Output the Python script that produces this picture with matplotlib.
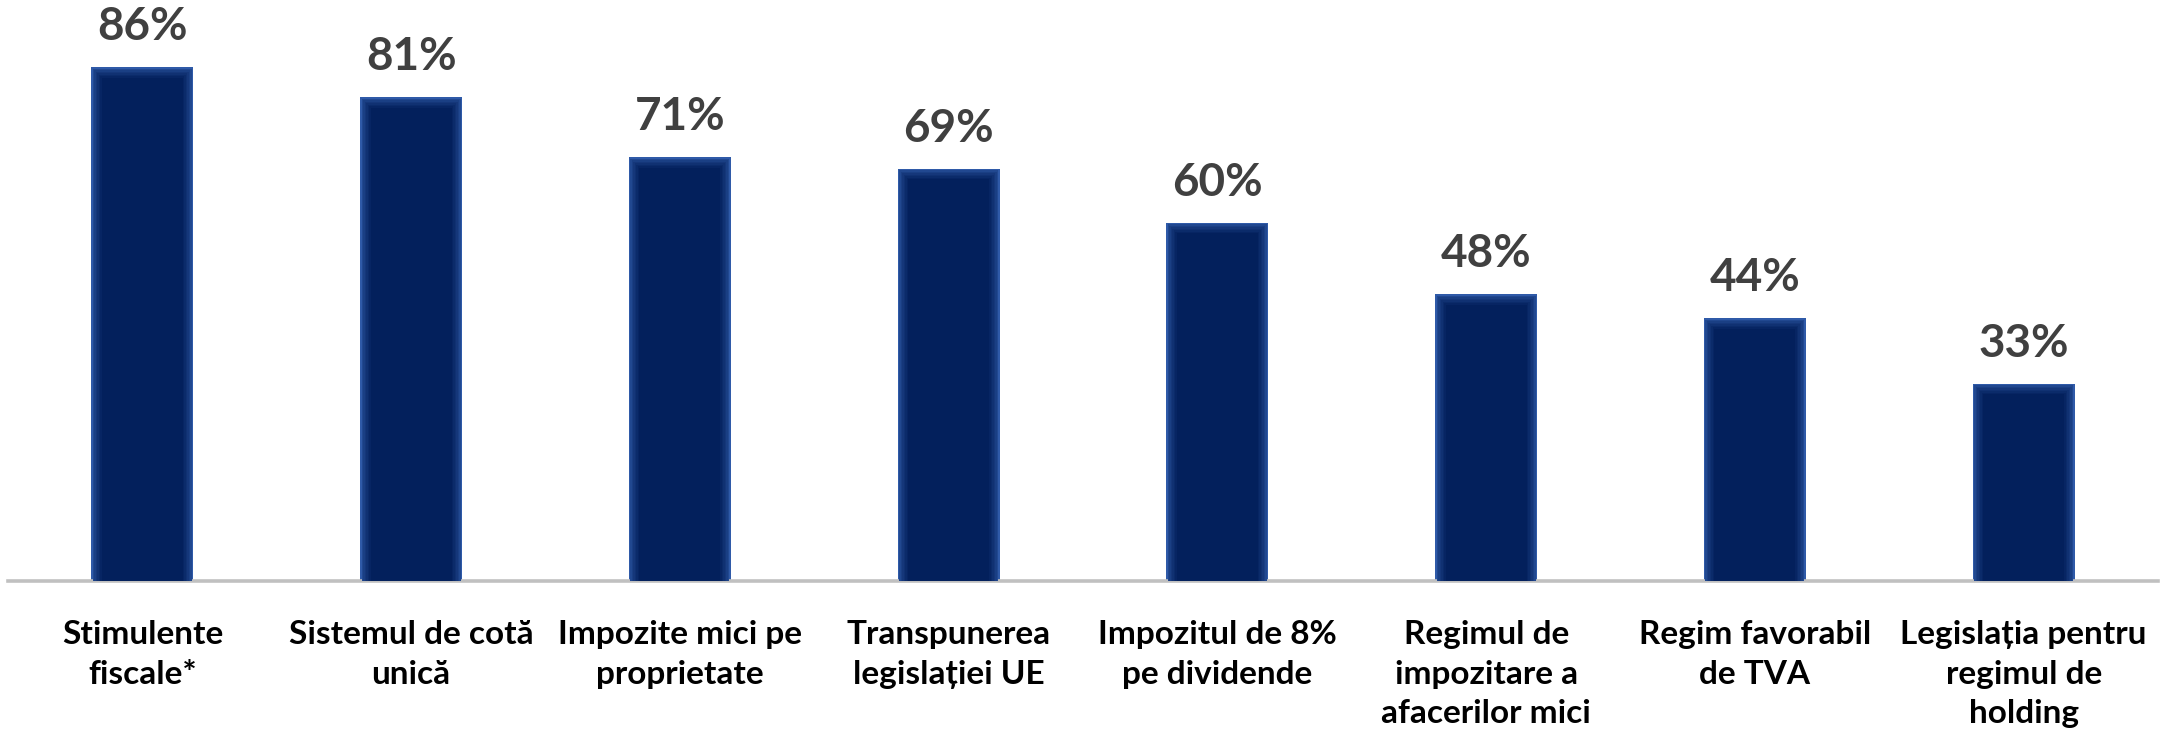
import numpy as np
import matplotlib.pyplot as plt
import matplotlib.colors as mcolors

categories = ['Stimulente\nfiscale*', 'Sistemul de cotă\nunică', 'Impozite mici pe\nproprietate',
              'Transpunerea\nlegislației UE', 'Impozitul de 8%\npe dividende',
              'Regimul de\nimpozitare a\nafacerilor mici', 'Regim favorabil\nde TVA',
              'Legislația pentru\nregimul de\nholding']
values = [86, 81, 71, 69, 60, 48, 44, 33]

FONT = ['Lato', 'DejaVu Sans']

fig = plt.figure(figsize=(21.74, 7.39), dpi=100)
ax = fig.add_axes([8 / 2174, (739 - 581) / 739, 2150 / 2174, 581 / 739])

x = np.arange(len(values))
ymax = 97.3
ax.set_xlim(-0.5, len(values) - 0.5)
ax.set_ylim(0, ymax)

# bar with soft inner glow: stack of slightly inset bars
px_x = (len(values)) / 2150.0   # data units per pixel, x
px_y = ymax / 581.0              # data units per pixel, y
width = 102 * px_x
edge_c = np.array(mcolors.to_rgb('#2f5aa8'))
core_c = np.array(mcolors.to_rgb('#03205c'))
steps = 8
for i in range(steps):
    inset = i * 1.5
    t = (i / (steps - 1)) ** 0.6
    col = edge_c * (1 - t) + core_c * t
    h = np.array(values) - inset * px_y
    ax.bar(x, h, width=width - 2 * inset * px_x, color=col, linewidth=0, zorder=2 + i)

for xi, v in zip(x, values):
    ax.text(xi, v + 19 * px_y, f'{v}%', ha='center', va='bottom', fontsize=33,
            fontweight='bold', color='#404040', family=FONT, clip_on=False)

for s in ['top', 'right', 'left']:
    ax.spines[s].set_visible(False)
ax.spines['bottom'].set_color('#c0c0c0')
ax.spines['bottom'].set_linewidth(2.6)
ax.set_yticks([])
ax.set_xticks(x)
ax.set_xticklabels(categories, fontsize=24, fontweight='bold', family=FONT,
                   color='black', linespacing=1.45)
ax.tick_params(axis='x', length=0, pad=28)

fig.savefig('out.png', dpi=100)
